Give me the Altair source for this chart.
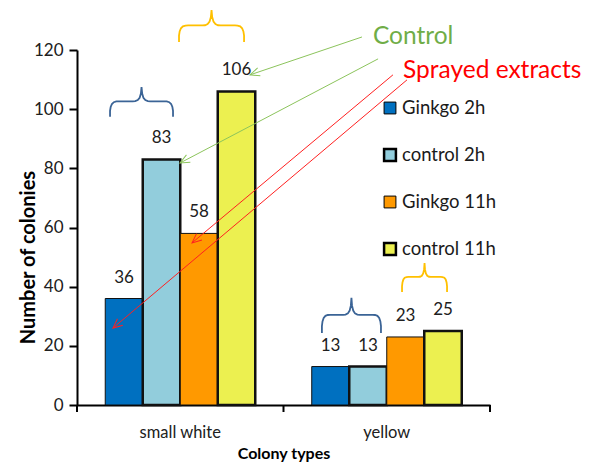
import math
import altair as alt
import pandas as pd

# ---------------- data ----------------
categories = ["small white", "yellow"]
series = ["Ginkgo 2h", "control 2h", "Ginkgo 11h", "control 11h"]
values_small_white = [36, 83, 58, 106]
values_yellow = [13, 13, 23, 25]
colors = ["#0070c0", "#92cddc", "#ff9900", "#ecf050"]
y_ticks = [0, 20, 40, 60, 80, 100, 120]
category_bounds = [0, 1, 2]

# annotations: x in category units (category i spans [i, i+1]), y in colonies
arrow_color = ["#8cc45c", "#8cc45c", "#ff2020", "#ff2020"]
arrow_x_from = [1.380, 1.458, 1.530, 1.598]
arrow_y_from = [124.4, 117.0, 111.6, 109.9]
arrow_x_to = [0.838, 0.499, 0.557, 0.174]
arrow_y_to = [111.6, 81.8, 54.8, 26.0]

note_text = ["Control", "Sprayed extracts"]
note_x = [1.433, 1.579]
note_y = [124.4, 112.9]
note_color = ["#70ad47", "#ff0000"]

brace_x_left = [0.160, 0.494, 1.186, 1.574]
brace_x_right = [0.465, 0.809, 1.472, 1.792]
brace_y_base = [97.4, 122.7, 24.3, 38.2]
brace_y_tip = [107.5, 133.5, 36.2, 48.0]
brace_color = ["#3b6496", "#ffc000", "#3b6496", "#ffc000"]

# brace outline (left half, mirrored for right half)
brace_u = [0.0, 0.0, 0.01, 0.03, 0.06, 0.10, 0.14, 0.36, 0.40, 0.44, 0.47, 0.49, 0.5]
brace_v = [0.0, 0.2, 0.33, 0.43, 0.49, 0.515, 0.52, 0.52, 0.525, 0.56, 0.64, 0.78, 1.0]

W, H = 413, 355
FONT = "Lato"

# ---------------- frames ----------------
bars = pd.DataFrame({
    "category": [c for c in categories for _ in series],
    "series": series * len(categories),
    "value": values_small_white + values_yellow,
})
legend_df = pd.DataFrame({"series": series})

arrows = pd.DataFrame({
    "x": arrow_x_from, "y": arrow_y_from,
    "x2": arrow_x_to, "y2": arrow_y_to, "col": arrow_color,
})
arrows["angle"] = [
    math.degrees(math.atan2(-(b - a) * H / 120.0, (d - c) * W / 2.0)) % 360
    for a, b, c, d in zip(arrow_y_from, arrow_y_to, arrow_x_from, arrow_x_to)
]

notes = pd.DataFrame({"t": note_text, "x": note_x, "y": note_y, "col": note_color})

rows = []
full_u = brace_u + [1 - u for u in reversed(brace_u[:-1])]
full_v = brace_v + list(reversed(brace_v[:-1]))
for i in range(len(brace_x_left)):
    for k, (u, v) in enumerate(zip(full_u, full_v)):
        rows.append({
            "b": i, "k": k,
            "x": brace_x_left[i] + u * (brace_x_right[i] - brace_x_left[i]),
            "y": brace_y_base[i] + v * (brace_y_tip[i] - brace_y_base[i]),
            "col": brace_color[i],
        })
braces = pd.DataFrame(rows)
bounds = pd.DataFrame({"b": category_bounds})

# ---------------- scales ----------------
xq = alt.Scale(domain=[0, 2], nice=False, zero=False)
yq = alt.Scale(domain=[0, 120], nice=False, zero=False)
xband = alt.Scale(paddingInner=0.2736, paddingOuter=0.1368)
xoff = alt.Scale(paddingInner=0, paddingOuter=0)
color_scale = alt.Scale(domain=series, range=colors)
control_expr = "indexof(datum.series, 'control') == 0"

# ---------------- layers ----------------
bar_layer = alt.Chart(bars).mark_bar(stroke="#111111", clip=False).encode(
    x=alt.X("category:N", sort=categories, scale=xband,
            axis=alt.Axis(title="Colony types", ticks=False, tickSize=0, labelAngle=0,
                          domainColor="black", domainWidth=2,
                          labelFont=FONT, labelFontSize=16.5, labelColor="#202020",
                          labelPadding=19, titleFont=FONT, titleFontSize=16,
                          titleFontWeight="bold", titleColor="black", titlePadding=5)),
    xOffset=alt.XOffset("series:N", sort=series, scale=xoff),
    y=alt.Y("value:Q", scale=yq,
            axis=alt.Axis(values=y_ticks, grid=False, tickSize=8, tickWidth=2,
                          tickColor="black", domainColor="black", domainWidth=2,
                          labelFont=FONT, labelFontSize=17, labelColor="#202020",
                          labelPadding=6, title="Number of colonies",
                          titleFont=FONT, titleFontSize=20, titleFontWeight="bold",
                          titleColor="black", titleAngle=270, titleX=-49, titleY=207,
                          titleAlign="center", titleBaseline="middle")),
    color=alt.Color("series:N", sort=series, scale=color_scale, legend=None),
    strokeWidth=alt.condition(control_expr, alt.value(2.5), alt.value(1)),
)

label_layer = alt.Chart(bars).mark_text(
    font=FONT, fontSize=17, color="#202020", baseline="middle", dy=-21, clip=False
).encode(
    x=alt.X("category:N", sort=categories, scale=xband, axis=None),
    xOffset=alt.XOffset("series:N", sort=series, scale=xoff),
    y=alt.Y("value:Q", scale=yq, axis=None),
    text=alt.Text("value:Q"),
)

legend_pos = alt.Scale(type="point", range=[58, 199], padding=0)
legend_sym = alt.Chart(legend_df).mark_square(size=140, opacity=1, stroke="black").encode(
    x=alt.value(313),
    y=alt.Y("series:N", sort=series, scale=legend_pos, axis=None),
    fill=alt.Fill("series:N", sort=series, scale=color_scale, legend=None),
    strokeWidth=alt.condition(control_expr, alt.value(2.5), alt.value(1)),
)
legend_txt = alt.Chart(legend_df).mark_text(
    font=FONT, fontSize=18.5, color="#1a1a1a", align="left", baseline="middle"
).encode(
    x=alt.value(325),
    y=alt.Y("series:N", sort=series, scale=legend_pos, axis=None),
    text="series:N",
)

tick_layer = alt.Chart(bounds).mark_rule(color="black", strokeWidth=2).encode(
    x=alt.X("b:Q", scale=xq, axis=None),
    y=alt.value(H),
    y2=alt.value(H + 7),
)

brace_layer = alt.Chart(braces).mark_line(strokeWidth=1.8, clip=False).encode(
    x=alt.X("x:Q", scale=xq, axis=None),
    y=alt.Y("y:Q", scale=yq, axis=None),
    detail="b:N",
    order="k:Q",
    stroke=alt.Stroke("col:N", scale=None),
)

arrow_layer = alt.Chart(arrows).mark_rule(strokeWidth=1, clip=False).encode(
    x=alt.X("x:Q", scale=xq, axis=None),
    y=alt.Y("y:Q", scale=yq, axis=None),
    x2="x2:Q", y2="y2:Q",
    stroke=alt.Stroke("col:N", scale=None),
)

head_layer = alt.Chart(arrows).mark_point(
    shape="M -1.8 -0.8 L 0 0 L -1.8 0.8", filled=False, size=110,
    strokeWidth=1, opacity=1, clip=False
).encode(
    x=alt.X("x2:Q", scale=xq, axis=None),
    y=alt.Y("y2:Q", scale=yq, axis=None),
    angle=alt.Angle("angle:Q", scale=None),
    stroke=alt.Stroke("col:N", scale=None),
)

note_layer = alt.Chart(notes).mark_text(
    font=FONT, fontSize=24.5, align="left", baseline="middle", clip=False
).encode(
    x=alt.X("x:Q", scale=xq, axis=None),
    y=alt.Y("y:Q", scale=yq, axis=None),
    text="t:N",
    color=alt.Color("col:N", scale=None),
)

chart = alt.layer(
    bar_layer, label_layer, legend_sym, legend_txt, tick_layer,
    brace_layer, arrow_layer, head_layer, note_layer
).resolve_scale(x="independent", y="independent", color="independent",
                fill="independent", stroke="independent").properties(
    width=W, height=H,
    autosize=alt.AutoSizeParams(type="none"),
    padding={"left": 77, "top": 50, "right": 104, "bottom": 60},
    background="white",
).configure_view(stroke=None)

chart.save("out.html", embed_options={"renderer": "svg", "actions": False})
